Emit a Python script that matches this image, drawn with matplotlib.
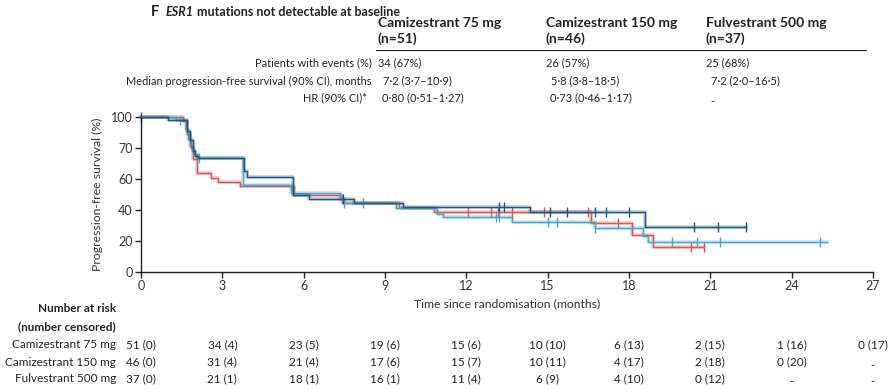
import matplotlib
matplotlib.use("Agg")
import matplotlib.pyplot as plt

plt.rcParams['font.family'] = ['Lato', 'DejaVu Sans']

# step curves (time in months, survival in %)
cam75_t = [0, 1.3, 1.65, 1.75, 1.85, 1.95, 2.05, 3.75, 5.55, 7.35, 7.5, 9.4, 10.9, 11.15, 13.7, 16.75, 18.5, 18.7, 25.3]
cam75_s = [100, 98, 92, 86, 80, 76, 73.4, 56, 51.2, 47, 44.5, 41.1, 37.4, 35.7, 32, 28.6, 23.2, 19.2, 19.2]
cam75_cens = [1.44, 2.14, 7.5, 8.18, 13.1, 13.2, 15.0, 15.36, 16.75, 19.6, 20.5, 21.35, 25.05]

cam150_t = [0, 1.0, 1.7, 1.8, 1.9, 2.0, 2.1, 3.8, 3.9, 5.6, 6.2, 7.85, 9.65, 14.35, 18.6, 22.3]
cam150_s = [100, 97.8, 91, 85, 78, 75, 73.4, 65, 61.5, 49.7, 46.9, 44.3, 42.1, 38.5, 28.8, 28.8]
cam150_cens = [0, 7.45, 13.22, 13.4, 15.1, 15.7, 16.75, 17.15, 18.0, 20.4, 21.3, 22.3]

fulv_t = [0, 1.55, 1.7, 1.8, 1.9, 2.05, 2.6, 2.85, 3.65, 5.65, 7.4, 9.5, 10.8, 16.6, 18.1, 18.9, 20.75]
fulv_s = [100, 97.3, 89, 81, 73, 63.7, 60.8, 57.9, 55.5, 49.7, 44.3, 41.1, 38.5, 31.8, 23.9, 15.9, 15.9]
fulv_cens = [12.05, 12.9, 13.15, 13.7, 14.85, 16.5, 17.6, 20.3, 20.75]

x_ticks = [0, 3, 6, 9, 12, 15, 18, 21, 24, 27]
y_ticks = [0, 20, 40, 60, 80, 100]
y_ticklabels = ['0', '20', '40', '60', '70', '100']

groups = ['Camizestrant 75 mg', 'Camizestrant 150 mg', 'Fulvestrant 500 mg']
risk_cam75 = ['51 (0)', '34 (4)', '23 (5)', '19 (6)', '15 (6)', '10 (10)', '6 (13)', '2 (15)', '1 (16)', '0 (17)']
risk_cam150 = ['46 (0)', '31 (4)', '21 (4)', '17 (6)', '15 (7)', '10 (11)', '4 (17)', '2 (18)', '0 (20)', '..']
risk_fulv = ['37 (0)', '21 (1)', '18 (1)', '16 (1)', '11 (4)', '6 (9)', '4 (10)', '0 (12)', '..', '..']

col_heads = [('Camizestrant 75 mg', '(n=51)'), ('Camizestrant 150 mg', '(n=46)'), ('Fulvestrant 500 mg', '(n=37)')]
row_names = ['Patients with events (%)', 'Median progression-free survival (90% CI), months', 'HR (90% CI)*']
events = ['34 (67%)', '26 (57%)', '25 (68%)']
medians = ['7·2 (3·7–10·9)', '5·8 (3·8–18·5)', '7·2 (2·0–16·5)']
hrs = ['0·80 (0·51–1·27)', '0·73 (0·46–1·17)', '..']

c75 = '#4ba6c6'
c150 = '#1d5882'
cfu = '#de5358'

W, H = 892, 392
fig = plt.figure(figsize=(W / 100, H / 100), dpi=100)
ax = fig.add_axes([141 / W, 1 - 272 / H, (873 - 141) / W, (272 - 117) / H])

for t, s, cens, col in [(fulv_t, fulv_s, fulv_cens, cfu),
                        (cam75_t, cam75_s, cam75_cens, c75),
                        (cam150_t, cam150_s, cam150_cens, c150)]:
    ax.step(t, s, where='post', color=col, lw=2.6, alpha=0.3, clip_on=False)
    ax.step(t, s, where='post', color=col, lw=1.0, clip_on=False)
    # censor marks sit on the curve level at that time
    ys = []
    for c in cens:
        lvl = s[0]
        for tt, ss in zip(t, s):
            if tt <= c:
                lvl = ss
        ys.append(lvl)
    ax.plot(cens, ys, ls='none', marker='|', ms=7, mew=1.0, color=col, clip_on=False)

ax.set_xlim(0, 27)
ax.set_ylim(0, 100)
ax.set_xticks(x_ticks)
ax.set_yticks(y_ticks)
ax.set_yticklabels(y_ticklabels)
for sp in ['top', 'right']:
    ax.spines[sp].set_visible(False)
for sp in ['left', 'bottom']:
    ax.spines[sp].set_color('#222222')
    ax.spines[sp].set_linewidth(1.0)
ax.tick_params(length=4, width=1, color='#222222', labelsize=9, labelcolor='#333333', pad=2)
ax.set_ylabel('Progression-free survival (%)', fontsize=8.8, color='#333333', labelpad=6)
ax.set_xlabel('Time since randomisation (months)', fontsize=8.8, color='#333333', labelpad=4)

def fx(px):
    return px / W

def fy(py):
    return 1 - py / H

tc = '#222222'
hfs = 7.9   # header table rows
rfs = 8.5   # number at risk table

# header panel
fig.text(fx(151), fy(12), 'F', fontsize=10.5, fontweight='bold', color=tc, va='center')
r = fig.canvas.get_renderer()
esr = fig.text(fx(166), fy(12), 'ESR1', fontsize=9, fontweight='bold', fontstyle='italic', color=tc, va='center')
bb = esr.get_window_extent(renderer=r)
fig.text((bb.x1 + 3) / W, fy(12), 'mutations not detectable at baseline', fontsize=9,
         fontweight='bold', color=tc, va='center')

head_x = [378, 546, 706]
for (h1, h2), x in zip(col_heads, head_x):
    fig.text(fx(x), fy(23), h1, fontsize=10, fontweight='bold', color=tc, va='center')
    fig.text(fx(x), fy(39), h2, fontsize=10, fontweight='bold', color=tc, va='center')
fig.add_artist(plt.Line2D([fx(376), fx(866)], [fy(50), fy(50)], color='#222222', lw=0.8))

row_y = [63, 81, 98]
row_x = [372, 372, 367]
for name, y, x in zip(row_names, row_y, row_x):
    fig.text(fx(x), fy(y), name, fontsize=hfs, color=tc, ha='right', va='center')
for vals, y, dx in [(events, 63, 0), (medians, 81, 5), (hrs, 98, 4)]:
    for v, x in zip(vals, head_x):
        fig.text(fx(x + dx), fy(y), v, fontsize=hfs, color=tc, va='center')

# number at risk table
fig.text(fx(116), fy(309), 'Number at risk', fontsize=rfs, fontweight='bold', color=tc, ha='right', va='center')
fig.text(fx(116), fy(327), '(number censored)', fontsize=rfs, fontweight='bold', color=tc, ha='right', va='center')
risk_y = [345, 362, 379]
for g, row, y in zip(groups, [risk_cam75, risk_cam150, risk_fulv], risk_y):
    fig.text(fx(116), fy(y), g, fontsize=rfs, color=tc, ha='right', va='center')
    for xt, v in zip(x_ticks, row):
        px = 141 + xt * (873 - 141) / 27
        fig.text(fx(px), fy(y), v, fontsize=rfs, color=tc, ha='center', va='center')

fig.savefig('out.png', dpi=100, facecolor='white')
